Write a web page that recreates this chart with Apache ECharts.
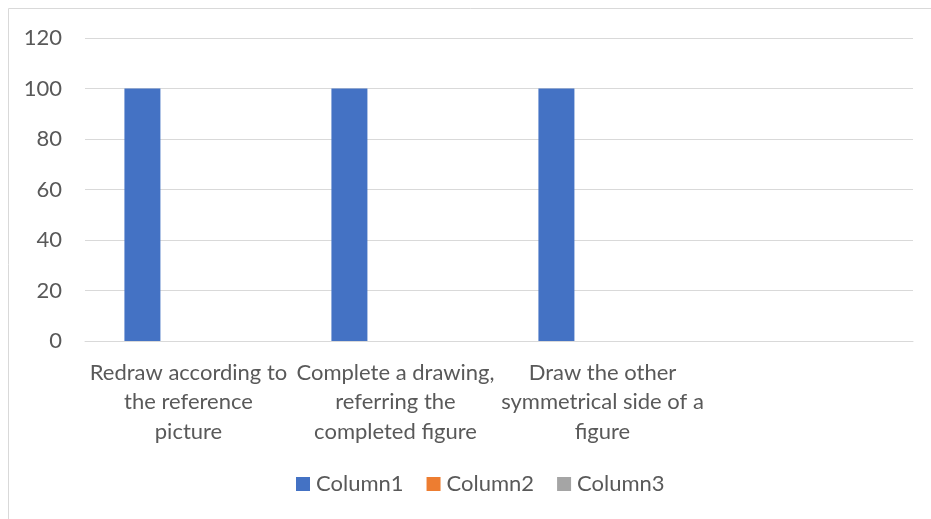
<!DOCTYPE html>
<html>
<head>
<meta charset="utf-8">
<script src="https://cdn.jsdelivr.net/npm/echarts@6/dist/echarts.min.js"></script>
<style>
  html, body { margin: 0; padding: 0; background: #ffffff; }
  #chart { width: 931px; height: 519px; }
</style>
</head>
<body>
<div id="chart"></div>
<script>
// Task categories (the fourth slot is left empty)
var categories = [
  'Redraw according to\nthe reference\npicture',
  'Complete a drawing,\nreferring the\ncompleted figure',
  'Draw the other\nsymmetrical side of a\nfigure',
  ''
];
var seriesNames = ['Column1', 'Column2', 'Column3'];
var column1 = [100, 100, 100, null];
var column2 = [null, null, null, null];
var column3 = [null, null, null, null];
var yTicks = { min: 0, max: 120, step: 20 };

var textColor = '#595959';
var lineColor = '#d9d9d9';
var fontFamily = 'Lato, "Noto Sans", sans-serif';

var chart = echarts.init(document.getElementById('chart'), null, { renderer: 'canvas' });

function barSeries(name, data, color) {
  return {
    name: name,
    type: 'bar',
    data: data,
    barWidth: 36,
    barGap: '28%',
    itemStyle: { color: color },
    emphasis: { disabled: true }
  };
}

chart.setOption({
  animation: false,
  textStyle: { fontFamily: fontFamily },
  graphic: [{
    type: 'rect',
    shape: { x: 8.5, y: 8.5, width: 940, height: 540 },
    style: { fill: 'none', stroke: lineColor, lineWidth: 1 },
    silent: true,
    z: -1
  }],
  grid: { left: 85, right: 18, top: 38, bottom: 178, containLabel: false },
  xAxis: {
    type: 'category',
    data: categories,
    axisLine: { show: true, lineStyle: { color: lineColor, width: 1 } },
    axisTick: { show: false },
    axisLabel: {
      interval: 0,
      color: textColor,
      fontSize: 22,
      lineHeight: 29.5,
      margin: 17,
      fontFamily: fontFamily
    }
  },
  yAxis: {
    type: 'value',
    min: yTicks.min,
    max: yTicks.max,
    interval: yTicks.step,
    axisLine: { show: false },
    axisTick: { show: false },
    splitLine: { lineStyle: { color: lineColor, width: 1 } },
    axisLabel: { color: textColor, fontSize: 22, margin: 23, fontFamily: fontFamily }
  },
  legend: {
    data: seriesNames,
    left: 296,
    top: 473,
    padding: 0,
    icon: 'rect',
    itemWidth: 14,
    itemHeight: 14,
    itemGap: 23,
    textStyle: { color: textColor, fontSize: 22, lineHeight: 22, padding: [0, 0, 0, 1], fontFamily: fontFamily }
  },
  series: [
    barSeries(seriesNames[0], column1, '#4472c4'),
    barSeries(seriesNames[1], column2, '#ed7d31'),
    barSeries(seriesNames[2], column3, '#a5a5a5')
  ]
});
</script>
</body>
</html>
